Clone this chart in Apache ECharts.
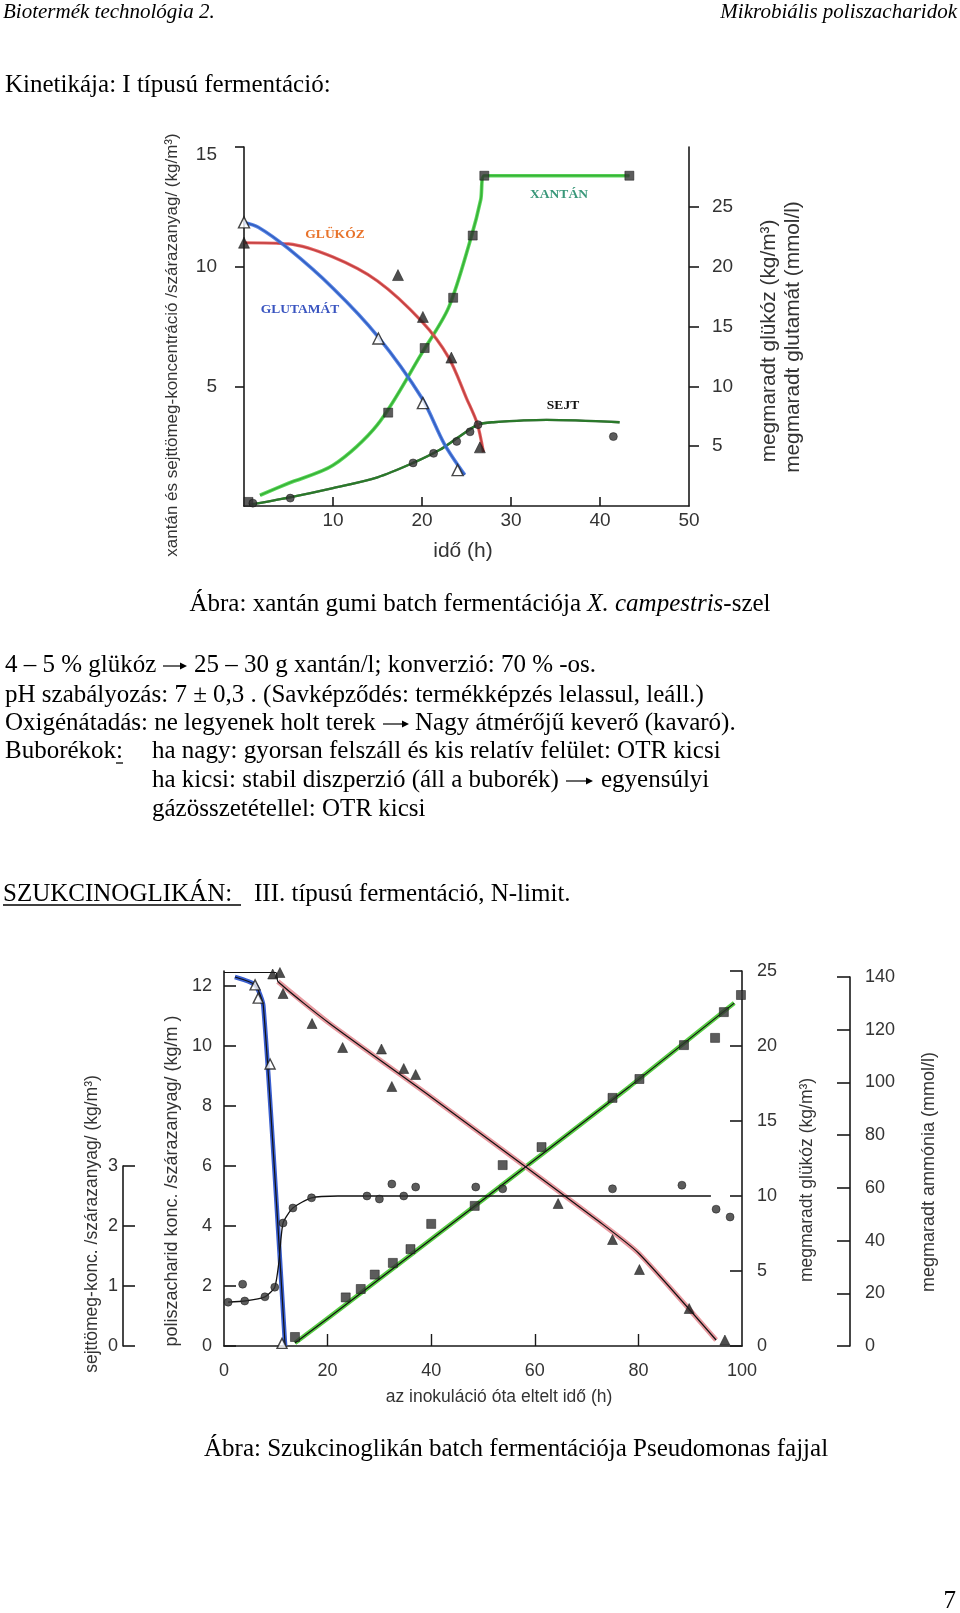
<!DOCTYPE html>
<html><head><meta charset="utf-8">
<script src="https://cdn.jsdelivr.net/npm/echarts@6/dist/echarts.min.js"></script>
<style>html,body{margin:0;padding:0;background:#fff}#c{width:960px;height:1613px}</style>
</head><body><div id="c"></div>
<script>
// ===== Chart 1: xantán gumi batch fermentáció (x: idő h) =====
const c1XLabels = [10, 20, 30, 40, 50];
const c1XTicks = [10, 20, 30, 40];
const c1LeftLabels = [5, 10, 15];
const c1RightLabels = [5, 10, 15, 20, 25];
// left axis (kg/m3)
const c1Xanthan = [[0.5,0.17],[16.2,3.9],[20.3,6.6],[23.5,8.7],[25.7,11.3],[27.0,13.8],[43.3,13.8]];
const c1XanthanFit = [[1.8,0.45],[5,0.95],[10,1.7],[15,3.4],[20,6.4],[23,8.3],[25.5,11.2],[26.6,12.8],[27.0,13.8],[43.3,13.8]];
const c1Cells = [[1.0,0.12],[5.2,0.33],[19.0,1.8],[21.3,2.2],[23.9,2.7],[25.4,3.1],[26.3,3.4],[41.5,2.9]];
const c1CellsFit = [[0.6,0.05],[5,0.35],[10,0.75],[15,1.2],[19,1.8],[22,2.35],[24,2.85],[26.3,3.4],[28,3.5],[34,3.6],[42.2,3.5]];
// right axis (kg/m3 glükóz, mmol/l glutamát)
const c1Glucose = [[0,22.0],[17.3,19.3],[20.1,15.8],[23.3,12.4],[26.5,4.9]];
const c1GlucoseFit = [[0,22.0],[5,21.9],[10,20.8],[15,18.8],[20,15.4],[23,12.4],[25,9.0],[26.2,6.9],[26.9,4.5]];
const c1Glutamate = [[0,23.7],[15.1,14.0],[20.1,8.6],[24.0,3.0]];
const c1GlutamateFit = [[0,23.7],[1.6,23.3],[5,21.5],[10,18.2],[15,14.2],[20,9.0],[22.5,5.2],[24.8,2.6]];

// ===== Chart 2: szukcinoglikán batch fermentáció (x: idő h) =====
const c2XLabels = [0, 20, 40, 60, 80, 100];
const c2XTicks = [20, 40, 60, 80];
const c2MainLabels = [0, 2, 4, 6, 8, 10, 12];
const c2GlucoseLabels = [0, 5, 10, 15, 20, 25];
const c2AmmoniaLabels = [0, 20, 40, 60, 80, 100, 120, 140];
const c2CellLabels = [0, 1, 2, 3];
// poliszacharid (kg/m3, main axis)
const c2Poly = [[13.7,0.3],[23.5,1.62],[26.4,1.9],[29.1,2.38],[32.6,2.77],[36,3.23],[40,4.07],[48.4,4.67],[53.8,6.03],[61.3,6.63],[75,8.27],[80.2,8.9],[88.8,10.03],[94.8,10.27],[96.5,11.13],[99.8,11.7]];
const c2PolyFit = [[13.7,0.1],[20.4,0.97],[50.7,4.97],[78.2,8.63],[98.5,11.43]];
// glükóz (kg/m3)
const c2Glucose = [[0.6,25.2],[1.9,25.2],[2.8,25.1],[9.4,24.8],[10.8,24.9],[11.4,23.5],[17,21.5],[22.9,19.9],[30.4,19.8],[32.4,17.3],[34.7,18.5],[37,18.1],[64.5,9.5],[75,7.1],[80.2,5.1],[89.8,2.5],[96.7,0.4]];
const c2GlucoseLag = [[0,24.9],[10,24.9]];
const c2GlucoseFit = [[10.4,24.3],[20.4,21.5],[40,16.6],[58.4,11.9],[72.4,8.3],[80,6.2],[95,0.4]];
// ammónia (mmol/l)
const c2Ammonia = [[6,137],[6.6,132],[8.9,107],[11.2,1]];
const c2AmmoniaFit = [[2.1,140],[6,137],[7.6,129],[11.8,0]];
// sejttömeg (kg/m3)
const c2Cells = [[0.8,0.73],[3.6,1.03],[4,0.75],[7.9,0.82],[9.8,0.98],[11.4,2.05],[13.3,2.3],[16.9,2.47],[27.6,2.5],[30,2.45],[32.4,2.7],[34.7,2.5],[37,2.65],[48.6,2.65],[53.8,2.62],[75,2.62],[88.4,2.68],[95,2.28],[97.7,2.15]];
const c2CellsFit = [[0.8,0.73],[4,0.75],[7.9,0.82],[9.8,0.98],[10.6,1.4],[11.4,2.05],[13.3,2.3],[16.9,2.47],[22,2.5],[94,2.5]];

const SANS = '"Liberation Sans", Arial, sans-serif';
const SERIF = '"Liberation Serif", "Times New Roman", serif';
const INK = '#1a1a1a';
const LBL = '#333';

function yAx(o) {
  return Object.assign({
    type: 'value', splitLine: { show: false },
    axisLine: { show: true, onZero: false, lineStyle: { color: INK, width: 1.6 } },
    axisTick: { show: true, inside: o.inside, length: o.tickLen, customValues: o.ticks, lineStyle: { color: INK, width: 1.6 } },
    axisLabel: Object.assign({ show: true, customValues: o.labels, margin: o.margin, color: LBL, fontSize: o.fs, fontFamily: SANS }, o.label || {})
  }, o.base);
}
function fit(data, color, width, xi, yi, smooth, z, opacity) {
  return { type: 'line', data: data, xAxisIndex: xi, yAxisIndex: yi, symbol: 'none', smooth: smooth,
    lineStyle: { color: color, width: width, opacity: opacity == null ? 1 : opacity }, z: z, silent: true, clip: false };
}
function pts(data, symbol, size, fill, xi, yi, open) {
  return { type: 'scatter', data: data, xAxisIndex: xi, yAxisIndex: yi, symbol: symbol, symbolSize: size,
    itemStyle: open ? { color: '#fff', borderColor: INK, borderWidth: 1.4 } : { color: fill, borderColor: '#111', borderWidth: 0.6 },
    z: 5, silent: true };
}
function txt(x, y, text, fs, opts) {
  opts = opts || {};
  return { type: 'text', x: x, y: y, rotation: opts.rot || 0, silent: true, z: 10,
    style: { text: text, fontSize: fs, fontFamily: opts.family || SERIF, fontStyle: opts.italic ? 'italic' : 'normal',
      fontWeight: opts.bold ? 'bold' : 'normal', fill: opts.color || '#000', align: opts.align || 'left',
      verticalAlign: 'middle', rich: opts.rich } };
}
function hline(x1, x2, y) {
  return { type: 'line', silent: true, shape: { x1: x1, y1: y, x2: x2, y2: y }, style: { stroke: '#000', lineWidth: 1.3 } };
}
function arrow(x1, x2, y) {
  return [
    { type: 'line', silent: true, shape: { x1: x1, y1: y, x2: x2 - 2, y2: y }, style: { stroke: '#000', lineWidth: 1.2 } },
    { type: 'polygon', silent: true, shape: { points: [[x2 - 7, y - 3.5], [x2, y], [x2 - 7, y + 3.5]] }, style: { fill: '#000' } }
  ];
}

const graphics = [
  txt(3, 12, 'Biotermék technológia 2.', 21, { italic: true }),
  txt(957, 12, 'Mikrobiális poliszacharidok', 21, { italic: true, align: 'right' }),
  txt(5, 85, 'Kinetikája: I típusú fermentáció:', 25),
  txt(480, 604, 'Ábra: xantán gumi batch fermentációja {i|X. campestris}-szel', 25, { align: 'center',
    rich: { i: { fontStyle: 'italic', fontSize: 25, fontFamily: SERIF, fill: '#000' } } }),
  txt(5, 665, '4 – 5 % glükóz', 25),
  ...arrow(163, 187, 666),
  txt(194, 665, '25 – 30 g xantán/l; konverzió: 70 % -os.', 25),
  txt(5, 695, 'pH szabályozás: 7 ± 0,3 . (Savképződés: termékképzés lelassul, leáll.)', 25),
  txt(5, 723, 'Oxigénátadás: ne legyenek holt terek', 25),
  ...arrow(383, 409, 724),
  txt(415, 723, 'Nagy átmérőjű keverő (kavaró).', 25),
  txt(5, 751, 'Buborékok:', 25),
  hline(116, 123, 763),
  txt(152, 751, 'ha nagy: gyorsan felszáll és kis relatív felület: OTR kicsi', 25),
  txt(152, 780, 'ha kicsi: stabil diszperzió (áll a buborék)', 25),
  ...arrow(566, 593, 781),
  txt(601, 780, 'egyensúlyi', 25),
  txt(152, 809, 'gázösszetétellel: OTR kicsi', 25),
  txt(3, 894, 'SZUKCINOGLIKÁN:', 25),
  hline(3, 241, 905),
  txt(254, 894, 'III. típusú fermentáció, N-limit.', 25),
  txt(204, 1449, 'Ábra: Szukcinoglikán batch fermentációja Pseudomonas fajjal', 25),
  txt(956, 1601, '7', 25, { align: 'right' }),
  // chart 1 axis titles and curve labels
  txt(172, 345, 'xantán és sejttömeg-koncentráció /szárazanyag/ (kg/m³)', 17, { family: SANS, color: LBL, rot: Math.PI / 2, align: 'center' }),
  txt(769, 341, 'megmaradt glükóz (kg/m³)', 20.8, { family: SANS, color: LBL, rot: Math.PI / 2, align: 'center' }),
  txt(793, 337, 'megmaradt glutamát (mmol/l)', 20.8, { family: SANS, color: LBL, rot: Math.PI / 2, align: 'center' }),
  txt(463, 551, 'idő (h)', 21, { family: SANS, color: LBL, align: 'center' }),
  txt(335, 235, 'GLÜKÓZ', 13.5, { bold: true, color: '#e8742c', align: 'center' }),
  txt(300, 310, 'GLUTAMÁT', 13.5, { bold: true, color: '#3a55c0', align: 'center' }),
  txt(559, 195, 'XANTÁN', 13.5, { bold: true, color: '#3a987a', align: 'center' }),
  txt(563, 406, 'SEJT', 13.5, { bold: true, color: '#111', align: 'center' }),
  // chart 2 axis titles
  txt(92, 1224, 'sejttömeg-konc. /szárazanyag/ (kg/m³)', 17.5, { family: SANS, color: LBL, rot: Math.PI / 2, align: 'center' }),
  txt(172, 1181, 'poliszacharid konc. /szárazanyag/ (kg/m )', 18, { family: SANS, color: LBL, rot: Math.PI / 2, align: 'center' }),
  txt(807, 1180, 'megmaradt glükóz (kg/m³)', 17.5, { family: SANS, color: LBL, rot: Math.PI / 2, align: 'center' }),
  txt(929, 1172, 'megmaradt ammónia (mmol/l)', 18, { family: SANS, color: LBL, rot: Math.PI / 2, align: 'center' }),
  txt(499, 1397, 'az inokuláció óta eltelt idő (h)', 17.5, { family: SANS, color: LBL, align: 'center' })
];

const chart = echarts.init(document.getElementById('c'), null, { renderer: 'canvas' });
chart.setOption({
  animation: false,
  backgroundColor: '#fff',
  grid: [
    { left: 244, top: 147, width: 445, height: 359 },
    { left: 224, top: 971, width: 518, height: 375 },
    { left: 224, top: 977, width: 518, height: 369 },
    { left: 224, top: 1166, width: 518, height: 180 }
  ],
  xAxis: [
    { gridIndex: 0, type: 'value', min: 0, max: 50, splitLine: { show: false },
      axisLine: { onZero: false, lineStyle: { color: INK, width: 1.6 } },
      axisTick: { inside: true, length: 9, customValues: c1XTicks, lineStyle: { color: INK, width: 1.6 } },
      axisLabel: { customValues: c1XLabels, margin: 5, color: LBL, fontSize: 19, fontFamily: SANS } },
    { gridIndex: 1, type: 'value', min: 0, max: 100, splitLine: { show: false },
      axisLine: { onZero: false, lineStyle: { color: INK, width: 1.6 } },
      axisTick: { inside: true, length: 12, customValues: c2XTicks, lineStyle: { color: INK, width: 1.4 } },
      axisLabel: { customValues: c2XLabels, margin: 16, color: LBL, fontSize: 18, fontFamily: SANS } },
    { gridIndex: 2, type: 'value', min: 0, max: 100, show: false },
    { gridIndex: 3, type: 'value', min: 0, max: 100, show: false }
  ],
  yAxis: [
    yAx({ base: { gridIndex: 0, min: 0, max: 15, position: 'left' }, inside: false, tickLen: 9, ticks: c1LeftLabels, labels: c1LeftLabels, margin: 27, fs: 19,
      label: { formatter: function (v) { return v === 15 ? '{d|15}' : String(v); },
        rich: { d: { padding: [16, 0, 0, 0], fontSize: 19, fontFamily: SANS, color: LBL } } } }),
    yAx({ base: { gridIndex: 0, min: 0, max: 30, position: 'right' }, inside: false, tickLen: 10, ticks: c1RightLabels, labels: c1RightLabels, margin: 23, fs: 19 }),
    yAx({ base: { gridIndex: 1, min: 0, max: 12.5, position: 'left' }, inside: true, tickLen: 12, ticks: c2MainLabels, labels: c2MainLabels, margin: 12, fs: 18 }),
    yAx({ base: { gridIndex: 1, min: 0, max: 25, position: 'right' }, inside: true, tickLen: 12, ticks: c2GlucoseLabels, labels: c2GlucoseLabels, margin: 15, fs: 18 }),
    yAx({ base: { gridIndex: 2, min: 0, max: 140, position: 'right', offset: 108 }, inside: true, tickLen: 13, ticks: c2AmmoniaLabels, labels: c2AmmoniaLabels, margin: 15, fs: 18 }),
    yAx({ base: { gridIndex: 3, min: 0, max: 3, position: 'left', offset: 101 }, inside: true, tickLen: 12, ticks: c2CellLabels, labels: c2CellLabels, margin: 5, fs: 18 })
  ],
  graphic: { elements: graphics },
  series: [
    fit(c1XanthanFit, '#111', 1.8, 0, 0, 0.3, 2),
    fit(c1XanthanFit, '#3fd03f', 3.6, 0, 0, 0.3, 3, 0.85),
    fit(c1CellsFit, '#111', 2.4, 0, 0, 0.3, 2),
    fit(c1CellsFit, '#3fd03f', 2.4, 0, 0, 0.3, 3, 0.55),
    fit(c1GlucoseFit, '#111', 1.6, 0, 1, 0.3, 2),
    fit(c1GlucoseFit, '#e24a4a', 3.2, 0, 1, 0.3, 3, 0.85),
    fit(c1GlutamateFit, '#111', 1.6, 0, 1, 0.3, 2),
    fit(c1GlutamateFit, '#3a6ee0', 3.6, 0, 1, 0.3, 3, 0.85),
    pts(c1Xanthan, 'rect', 9, '#333', 0, 0),
    pts(c1Cells, 'circle', 8, '#333', 0, 0),
    pts(c1Glucose, 'triangle', 11, '#222', 0, 1),
    pts(c1Glutamate, 'triangle', 11, '#fff', 0, 1, true),

    fit(c2PolyFit, '#58cc44', 4.5, 1, 2, false, 2),
    fit(c2PolyFit, '#111', 1.2, 1, 2, false, 3),
    fit(c2GlucoseFit, '#e89aa0', 5, 1, 3, 0.2, 2),
    fit(c2GlucoseLag.concat(c2GlucoseFit), '#111', 1.2, 1, 3, 0.2, 3),
    fit(c2AmmoniaFit, '#3a5fd0', 4.5, 2, 4, 0.2, 2),
    fit(c2AmmoniaFit, '#111', 1.2, 2, 4, 0.2, 3),
    fit(c2CellsFit, '#111', 1.3, 3, 5, 0.2, 3),
    pts(c2Poly, 'rect', 9, '#333', 1, 2),
    pts(c2Glucose, 'triangle', 10, '#222', 1, 3),
    pts(c2Ammonia, 'triangle', 10, '#fff', 2, 4, true),
    pts(c2Cells, 'circle', 8, '#333', 3, 5)
  ]
});
</script></body></html>
